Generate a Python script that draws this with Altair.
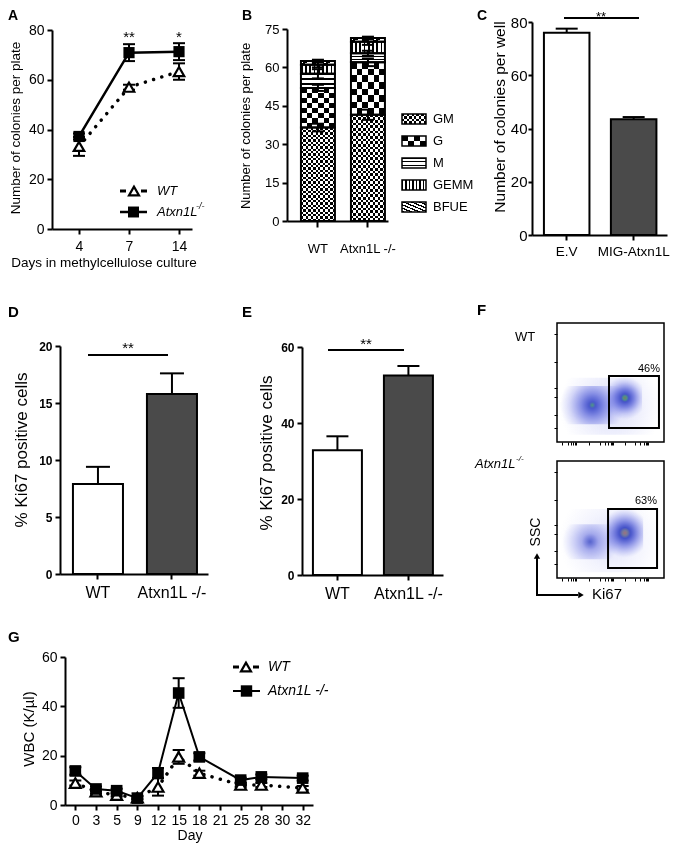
import altair as alt
import pandas as pd

FONT = "Liberation Sans"
MARGIN = 8
W, H = 662, 838

# ---------------- data ----------------
# Panel A
A_days = ["4", "7", "14"]
A_wt = [33.2, 57.0, 63.3]
A_wt_err = [3.8, 1.0, 3.3]
A_ko = [37.2, 70.9, 71.3]
A_ko_err = [1.2, 3.4, 3.4]
A_sig = ["", "**", "*"]

# Panel B (stacked segments, bottom to top)
B_groups = ["WT", "Atxn1L -/-"]
B_types = ["GM", "G", "M", "GEMM", "BFUE"]
B_wt = [36.5, 15.5, 5.5, 3.5, 1.5]
B_wt_err = [1.5, 1.2, 1.8, 1.0, 0.5]
B_ko = [41.5, 20.5, 3.5, 4.5, 1.5]
B_ko_err = [2.0, 1.5, 1.0, 1.2, 0.5]

# Panel C
C_groups = ["E.V", "MIG-Atxn1L"]
C_vals = [76.0, 43.5]
C_err = [1.5, 0.8]

# Panel D
D_groups = ["WT", "Atxn1L -/-"]
D_vals = [7.9, 15.8]
D_err = [1.5, 1.8]

# Panel E
E_groups = ["WT", "Atxn1L -/-"]
E_vals = [32.8, 52.5]
E_err = [3.7, 2.5]

# Panel F (flow plots, arbitrary 0-100 units)
F_kinds = ["spread", "left", "right"]
F_wt_cx = [50, 33, 63.5]
F_wt_cy = [30, 31, 37]
F_wt_rx = [48, 30, 16]
F_wt_ry = [24, 16, 18]
F_ko_cx = [50, 31, 63.5]
F_ko_cy = [32, 31, 38.5]
F_ko_rx = [48, 26, 17]
F_ko_ry = [27, 15, 21]
F_wt_gate = [48.6, 95.3, 11.8, 55.5]
F_ko_gate = [47.7, 93.5, 8.5, 59.0]
F_pct = ["46%", "63%"]
F_xticks = [5, 10, 13, 15, 16.5, 17.5, 30, 40, 45, 48, 50, 51.5, 52.5, 64, 73, 78, 81, 83, 84.5, 85.5]
F_yticks = [12, 23, 38, 45, 67, 91]

# Panel G
G_days = ["0", "3", "5", "9", "12", "15", "18", "21", "25", "28", "30", "32"]
G_pts = ["0", "3", "5", "9", "12", "15", "18", "25", "28", "32"]
G_wt = [8.9, 5.4, 4.0, 3.0, 7.3, 19.5, 12.9, 8.1, 8.1, 6.9]
G_wt_err = [1.0, 0.8, 0.6, 0.5, 3.5, 2.8, 1.0, 0.8, 0.8, 0.8]
G_ko = [13.8, 6.5, 5.8, 2.8, 13.0, 45.4, 19.5, 10.1, 11.4, 10.9]
G_ko_err = [1.5, 1.0, 0.8, 0.6, 2.0, 6.0, 1.5, 1.0, 1.0, 1.0]


def px(v):
    return v - MARGIN


def one():
    return pd.DataFrame({"k": [0]})


def label(text, x, y, size=13, weight="normal", style="normal", align="center",
          baseline="middle", angle=0):
    return alt.Chart(pd.DataFrame({"t": [text]})).mark_text(
        font=FONT, fontSize=size, fontWeight=weight, fontStyle=style, align=align,
        baseline=baseline, angle=angle, color="black").encode(
        x=alt.value(px(x)), y=alt.value(px(y)), text="t:N")


def seg(x1, y1, x2, y2, width=2, dash=None, cap="butt"):
    kw = dict(color="black", strokeWidth=width, strokeCap=cap)
    if dash:
        kw["strokeDash"] = dash
    return alt.Chart(one()).mark_rule(**kw).encode(
        x=alt.value(px(x1)), x2=alt.value(px(x2)), y=alt.value(px(y1)), y2=alt.value(px(y2)))


def marker(shape, x, y, size, fill, sw=2.2):
    return alt.Chart(one()).mark_point(
        shape=shape, size=size, filled=True, fill=fill, stroke="black", strokeWidth=sw, opacity=1
    ).encode(x=alt.value(px(x)), y=alt.value(px(y)))


AX = dict(grid=False, title=None, domainColor="black", domainWidth=2, tickColor="black",
          tickWidth=2, labelColor="black", labelFont=FONT, labelAngle=0)


def left_axis(xpage, values, size, bold=False, tick=5, pad=3):
    return alt.Axis(orient="left", offset=-px(xpage), values=values, labelFontSize=size,
                    labelFontWeight="bold" if bold else "normal", tickSize=tick,
                    labelPadding=pad, **AX)


def bottom_axis(ypage, size, tick=5, pad=3):
    return alt.Axis(orient="bottom", offset=px(ypage) - H, labelFontSize=size, tickSize=tick,
                    labelPadding=pad, **AX)


def stripes(n, direction, duty=0.5, dark="black", light="white"):
    stops = []
    for i in range(n):
        a, b, c = i / n, (i + duty) / n, (i + 1) / n
        stops += [{"offset": a, "color": dark}, {"offset": b, "color": dark},
                  {"offset": b, "color": light}, {"offset": c, "color": light}]
    if direction == "x":
        xy = dict(x1=0, y1=0, x2=1, y2=0)
    elif direction == "y":
        xy = dict(x1=0, y1=0, x2=0, y2=1)
    else:
        xy = dict(x1=0, y1=1, x2=1, y2=0)
    return dict(gradient="linear", stops=stops, **xy)


def blob(stops):
    return dict(gradient="radial", stops=[{"offset": o, "color": c} for o, c in stops],
                x1=0.5, y1=0.5, r1=0, x2=0.5, y2=0.5, r2=0.5)


def pattern(chart, enc, kind, legend=False, mark="bar"):
    def mk(**kw):
        return chart.mark_bar(strokeWidth=0, **kw) if mark == "bar" else chart.mark_rect(strokeWidth=0, **kw)
    if kind == "GM":
        nx, ny = (5, 2) if legend else (7, 20)
        return [mk(fill=stripes(nx, "x")).encode(**enc),
                mk(fill=stripes(ny, "y"), blend="difference").encode(**enc)]
    if kind == "G":
        nx, ny = (2, 1) if legend else (3, 4)
        return [mk(fill=stripes(nx, "x")).encode(**enc),
                mk(fill=stripes(ny, "y"), blend="difference").encode(**enc)]
    if kind == "M":
        return [mk(fill=stripes(3, "y", duty=0.3)).encode(**enc)]
    if kind == "GEMM":
        return [mk(fill=stripes(7 if legend else 8, "x", duty=0.4)).encode(**enc)]
    return [mk(fill=stripes(6, "d", duty=0.4)).encode(**enc)]


layers = []

# ======================= Panel A =======================
dfA = pd.DataFrame({
    "day": A_days, "i": list(range(len(A_days))), "wt": A_wt, "ko": A_ko, "sig": A_sig,
    "wt_lo": [v - e for v, e in zip(A_wt, A_wt_err)], "wt_hi": [v + e for v, e in zip(A_wt, A_wt_err)],
    "ko_lo": [v - e for v, e in zip(A_ko, A_ko_err)], "ko_hi": [v + e for v, e in zip(A_ko, A_ko_err)],
})
sxA = alt.Scale(type="point", domain=A_days, range=[px(52), px(192)], padding=0.4, align=0.675)
syA = alt.Scale(domain=[0, 80], range=[px(229), px(30)], nice=False, zero=False)
cA = alt.Chart(dfA)


def xa(axis=None):
    return alt.X("day:N", scale=sxA, axis=axis)


def ya(f, axis=None):
    return alt.Y(f + ":Q", scale=syA, axis=axis)


layers += [
    cA.mark_line(color="black", strokeWidth=3.5, strokeDash=[0.1, 8.5], strokeCap="round").encode(
        x=xa(), y=ya("wt"), order="i:Q"),
    cA.mark_line(color="black", strokeWidth=2.5).encode(
        x=xa(bottom_axis(229, 14, pad=5)), y=ya("ko", left_axis(52, [0, 20, 40, 60, 80], 14)), order="i:Q"),
    cA.mark_rule(color="black", strokeWidth=2).encode(x=xa(), y=ya("wt_lo"), y2="wt_hi:Q"),
    cA.mark_rule(color="black", strokeWidth=2).encode(x=xa(), y=ya("ko_lo"), y2="ko_hi:Q"),
]
for f in ["wt_lo", "wt_hi", "ko_lo", "ko_hi"]:
    layers.append(cA.mark_tick(color="black", thickness=2, size=12, opacity=1).encode(x=xa(), y=ya(f)))
layers += [
    cA.mark_point(shape="triangle-up", size=110, filled=True, fill="white", stroke="black",
                  strokeWidth=2.2, opacity=1).encode(x=xa(), y=ya("wt")),
    cA.mark_square(size=125, color="black", opacity=1).encode(x=xa(), y=ya("ko")),
    cA.mark_text(font=FONT, fontSize=15, baseline="alphabetic", color="black").encode(
        x=xa(), y=alt.value(px(42)), text="sig:N"),
    # legend
    seg(120, 191, 126, 191, 3), seg(141, 191, 147, 191, 3),
    marker("triangle-up", 134, 191, 100, "white"),
    seg(120, 212, 147, 212, 2.5),
    marker("square", 133.5, 212, 120, "black", sw=0),
    label("WT", 157, 191, 13, style="italic", align="left"),
    label("Atxn1L", 157, 212, 13, style="italic", align="left"),
    label("-/-", 196, 206, 9, style="italic", align="left"),
    label("Number of colonies per plate", 16, 128, 13.5, angle=270),
    label("Days in methylcellulose culture", 104, 263, 13.5),
    label("A", 8, 16, 14, weight="bold", align="left"),
]

# ======================= Panel B =======================
rows = []
for g, vals, errs in [(B_groups[0], B_wt, B_wt_err), (B_groups[1], B_ko, B_ko_err)]:
    acc = 0.0
    for t, v, e in zip(B_types, vals, errs):
        rows.append(dict(g=g, t=t, y0=acc, y1=acc + v, lo=acc + v - e, hi=acc + v + e))
        acc += v
dfB = pd.DataFrame(rows)
sxB = alt.Scale(type="band", domain=B_groups, range=[px(287), px(388)], paddingInner=0.32,
                paddingOuter=0.17, align=0.82)
syB = alt.Scale(domain=[0, 75], range=[px(221), px(29)], nice=False, zero=False)
cB = alt.Chart(dfB)
for t in B_types:
    ct = cB.transform_filter(alt.datum.t == t)
    enc = dict(x=alt.X("g:N", scale=sxB, axis=None), y=alt.Y("y0:Q", scale=syB, axis=None), y2="y1:Q")
    layers += pattern(ct, enc, t)
layers += [
    cB.mark_bar(fillOpacity=0, stroke="black", strokeWidth=2).encode(
        x=alt.X("g:N", scale=sxB, axis=bottom_axis(221, 13, tick=6, pad=15)),
        y=alt.Y("y0:Q", scale=syB, axis=left_axis(287, [0, 15, 30, 45, 60, 75], 13)), y2="y1:Q"),
    cB.mark_rule(color="black", strokeWidth=2).encode(
        x=alt.X("g:N", scale=sxB, axis=None), y=alt.Y("lo:Q", scale=syB, axis=None), y2="hi:Q"),
    cB.mark_tick(color="black", thickness=2, size=12, opacity=1).encode(
        x=alt.X("g:N", scale=sxB, axis=None), y=alt.Y("hi:Q", scale=syB, axis=None)),
    cB.mark_tick(color="black", thickness=2, size=12, opacity=1).encode(
        x=alt.X("g:N", scale=sxB, axis=None), y=alt.Y("lo:Q", scale=syB, axis=None)),
]
leg_y = [119, 141, 163, 185, 207]
for t, yc in zip(B_types, leg_y):
    enc = dict(x=alt.value(px(402)), x2=alt.value(px(426)), y=alt.value(px(yc - 5)), y2=alt.value(px(yc + 5)))
    layers += pattern(alt.Chart(one()), enc, t, legend=True, mark="rect")
    layers.append(alt.Chart(one()).mark_rect(fillOpacity=0, stroke="black", strokeWidth=1.5).encode(**enc))
    layers.append(label(t, 433, yc, 13, align="left"))
layers += [
    label("Number of colonies per plate", 246, 126, 13, angle=270),
    label("B", 242, 16, 14, weight="bold", align="left"),
]


# ======================= bar panels C, D, E =======================
def bar_panel(groups, vals, errs, xr, band, yr, dom, ticks, fills, tick_font, tick_bold,
              xlab_font, cap, xlab_pad, ytick=5, ypad=3):
    df = pd.DataFrame({"g": groups, "v": vals, "hi": [v + e for v, e in zip(vals, errs)]})
    sx = alt.Scale(type="band", domain=groups, range=[px(xr[0]), px(xr[1])], paddingInner=band[0],
                   paddingOuter=band[1], align=band[2])
    sy = alt.Scale(domain=dom, range=[px(yr[0]), px(yr[1])], nice=False, zero=False)
    c = alt.Chart(df)
    X0 = alt.X("g:N", scale=sx, axis=None)
    return [
        c.mark_rule(color="black", strokeWidth=2).encode(x=X0, y=alt.Y("v:Q", scale=sy, axis=None), y2="hi:Q"),
        c.mark_tick(color="black", thickness=2, size=cap, opacity=1).encode(
            x=X0, y=alt.Y("hi:Q", scale=sy, axis=None)),
        c.mark_bar(stroke="black", strokeWidth=2).encode(
            x=alt.X("g:N", scale=sx, axis=bottom_axis(yr[0], xlab_font, pad=xlab_pad)),
            y=alt.Y("v:Q", scale=sy, axis=left_axis(xr[0], ticks, tick_font, bold=tick_bold,
                                                     tick=ytick, pad=ypad)),
            fill=alt.Fill("g:N", scale=alt.Scale(domain=groups, range=fills), legend=None)),
    ]


DARK = "#4a4a4a"
layers += bar_panel(C_groups, C_vals, C_err, (532, 667), (0.32, 0.168, 0.53), (235, 22), [0, 80],
                    [0, 20, 40, 60, 80], ["white", DARK], 15, False, 13.5, 22, 4, ytick=4, ypad=1)
layers += [
    seg(564, 18, 639, 18, 2),
    label("**", 601, 20.5, 13, baseline="alphabetic"),
    label("Number of colonies per well", 500, 117, 15.5, angle=270),
    label("C", 477, 16, 14, weight="bold", align="left"),
]
layers += bar_panel(D_groups, D_vals, D_err, (60, 208), (0.324, 0.162, 0.54), (574, 346), [0, 20],
                    [0, 5, 10, 15, 20], ["white", DARK], 12, True, 16, 24, 5)
layers += [
    seg(88, 355, 168, 355, 2),
    label("**", 128, 353, 15, baseline="alphabetic"),
    label("% Ki67 positive cells", 22, 450, 17, angle=270),
    label("D", 8, 312, 15, weight="bold", align="left"),
]
layers += bar_panel(E_groups, E_vals, E_err, (302, 443), (0.31, 0.148, 0.52), (575, 347), [0, 60],
                    [0, 20, 40, 60], ["white", DARK], 12, True, 16, 22, 5)
layers += [
    seg(328, 350, 404, 350, 2),
    label("**", 366, 349, 15, baseline="alphabetic"),
    label("% Ki67 positive cells", 267, 453, 17, angle=270),
    label("E", 242, 312, 15, weight="bold", align="left"),
]

# ======================= Panel F =======================
CLEAR = "rgba(110,120,235,0)"
STYLE = {
    "WT": {
        "spread": [(0, "rgba(80,90,225,0.22)"), (0.55, "rgba(90,100,230,0.1)"), (1, CLEAR)],
        "left": [(0, "#4f9a80"), (0.1, "#4a58cc"), (0.35, "rgba(65,78,212,0.6)"),
                 (0.7, "rgba(85,95,225,0.22)"), (1, CLEAR)],
        "right": [(0, "#8a7060"), (0.08, "#4f9a80"), (0.18, "#4452c8"), (0.45, "rgba(60,72,210,0.6)"),
                  (0.75, "rgba(85,95,225,0.22)"), (1, CLEAR)],
    },
    "KO": {
        "spread": [(0, "rgba(90,100,230,0.2)"), (0.55, "rgba(100,110,235,0.08)"), (1, CLEAR)],
        "left": [(0, "#5562cc"), (0.3, "rgba(75,85,215,0.45)"), (0.7, "rgba(95,105,228,0.18)"), (1, CLEAR)],
        "right": [(0, "#a07080"), (0.1, "#767a98"), (0.22, "#4452c8"), (0.5, "rgba(60,72,210,0.55)"),
                  (0.8, "rgba(85,95,225,0.2)"), (1, CLEAR)],
    },
}


def flow_plot(key, cx, cy, rx, ry, gate, xr, yr):
    df = pd.DataFrame({"kind": F_kinds,
                       "x0": [a - b for a, b in zip(cx, rx)], "x1": [a + b for a, b in zip(cx, rx)],
                       "y0": [a - b for a, b in zip(cy, ry)], "y1": [a + b for a, b in zip(cy, ry)]})
    sx = alt.Scale(domain=[0, 100], range=[px(xr[0]), px(xr[1])], nice=False, zero=False)
    sy = alt.Scale(domain=[0, 100], range=[px(yr[0]), px(yr[1])], nice=False, zero=False)
    out = []
    for k in F_kinds:
        out.append(alt.Chart(df).transform_filter(alt.datum.kind == k).mark_rect(
            fill=blob(STYLE[key][k]), strokeWidth=0).encode(
            x=alt.X("x0:Q", scale=sx, axis=None), x2="x1:Q",
            y=alt.Y("y0:Q", scale=sy, axis=None), y2="y1:Q"))
    gdf = pd.DataFrame({"x0": [gate[0]], "x1": [gate[1]], "y0": [gate[2]], "y1": [gate[3]]})
    out.append(alt.Chart(gdf).mark_rect(fillOpacity=0, stroke="black", strokeWidth=2).encode(
        x=alt.X("x0:Q", scale=sx, axis=None), x2="x1:Q", y=alt.Y("y0:Q", scale=sy, axis=None), y2="y1:Q"))
    fdf = pd.DataFrame({"x0": [0], "x1": [100], "y0": [0], "y1": [100]})
    tick_ax = dict(grid=False, title=None, labels=False, domain=False, tickColor="black",
                   tickWidth=1, tickSize=3)
    out.append(alt.Chart(fdf).mark_rect(fillOpacity=0, stroke="black", strokeWidth=1.5).encode(
        x=alt.X("x0:Q", scale=sx, axis=alt.Axis(orient="bottom", offset=px(yr[0]) - H,
                                                 values=F_xticks, **tick_ax)), x2="x1:Q",
        y=alt.Y("y0:Q", scale=sy, axis=alt.Axis(orient="left", offset=-px(xr[0]),
                                                 values=F_yticks, **tick_ax)), y2="y1:Q"))
    return out


layers += flow_plot("WT", F_wt_cx, F_wt_cy, F_wt_rx, F_wt_ry, F_wt_gate, (557, 664), (442, 323))
layers += flow_plot("KO", F_ko_cx, F_ko_cy, F_ko_rx, F_ko_ry, F_ko_gate, (557, 664), (578, 461))
layers += [
    label("WT", 525, 337, 13),
    label(F_pct[0], 649, 369, 11),
    label("Atxn1L", 475, 464, 13, style="italic", align="left"),
    label("-/-", 516, 459, 8, style="italic", align="left"),
    label(F_pct[1], 646, 501, 11),
    label("SSC", 536, 532, 14, angle=270),
    label("Ki67", 607, 594, 15),
    seg(537, 596, 537, 558, 2),
    seg(536, 595, 578, 595, 2),
    marker("triangle-up", 537, 556, 40, "black", sw=0),
    marker("triangle-right", 581, 595, 40, "black", sw=0),
    label("F", 477, 310, 15, weight="bold", align="left"),
]

# ======================= Panel G =======================
dfG = pd.DataFrame({
    "day": G_pts, "i": list(range(len(G_pts))), "wt": G_wt, "ko": G_ko,
    "wt_lo": [v - e for v, e in zip(G_wt, G_wt_err)], "wt_hi": [v + e for v, e in zip(G_wt, G_wt_err)],
    "ko_lo": [v - e for v, e in zip(G_ko, G_ko_err)], "ko_hi": [v + e for v, e in zip(G_ko, G_ko_err)],
})
sxG = alt.Scale(type="point", domain=G_days, range=[px(65), px(313)], padding=0.5)
syG = alt.Scale(domain=[0, 60], range=[px(805), px(657)], nice=False, zero=False)
cG = alt.Chart(dfG)


def xg(axis=None):
    return alt.X("day:N", scale=sxG, axis=axis)


def yg(f, axis=None):
    return alt.Y(f + ":Q", scale=syG, axis=axis)


layers += [
    cG.mark_line(color="black", strokeWidth=3.5, strokeDash=[0.1, 8.5], strokeCap="round").encode(
        x=xg(), y=yg("wt"), order="i:Q"),
    cG.mark_line(color="black", strokeWidth=2).encode(
        x=xg(bottom_axis(805, 14, pad=3)), y=yg("ko", left_axis(65, [0, 20, 40, 60], 14)), order="i:Q"),
    cG.mark_rule(color="black", strokeWidth=2).encode(x=xg(), y=yg("wt_lo"), y2="wt_hi:Q"),
    cG.mark_rule(color="black", strokeWidth=2).encode(x=xg(), y=yg("ko_lo"), y2="ko_hi:Q"),
]
for f in ["wt_lo", "wt_hi", "ko_lo", "ko_hi"]:
    layers.append(cG.mark_tick(color="black", thickness=2, size=12, opacity=1).encode(x=xg(), y=yg(f)))
layers += [
    cG.mark_point(shape="triangle-up", size=120, filled=True, fill="white", stroke="black",
                  strokeWidth=2.2, opacity=1).encode(x=xg(), y=yg("wt")),
    cG.mark_square(size=135, color="black", opacity=1).encode(x=xg(), y=yg("ko")),
    seg(233, 667, 239, 667, 3), seg(253, 667, 259, 667, 3),
    marker("triangle-up", 246, 667, 100, "white"),
    seg(233, 691, 260, 691, 2),
    marker("square", 246.5, 691, 130, "black", sw=0),
    label("WT", 268, 667, 14, style="italic", align="left"),
    label("Atxn1L -/-", 268, 691, 14, style="italic", align="left"),
    label("WBC (K/\u00b5l)", 29, 729, 15, angle=270),
    label("Day", 190, 836, 14),
    label("G", 8, 637, 15, weight="bold", align="left"),
]

chart = alt.layer(*layers).resolve_scale(
    x="independent", y="independent", fill="independent", color="independent"
).properties(
    width=W, height=H, padding=0, autosize="none", background="white"
).configure_view(stroke=None)

chart.save("out.html", embed_options={"renderer": "svg", "actions": False})
